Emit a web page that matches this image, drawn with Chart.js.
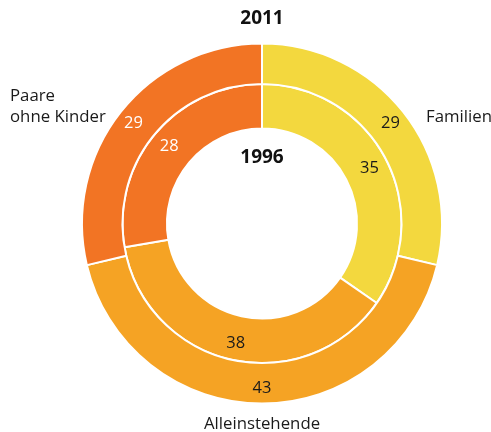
<!DOCTYPE html>
<html>
<head>
<meta charset="utf-8">
<script src="https://cdn.jsdelivr.net/npm/chart.js@4/dist/chart.umd.min.js"></script>
<style>
  html, body { margin: 0; padding: 0; background: #fff; }
  #wrap { width: 491px; height: 432px; position: relative; }
</style>
</head>
<body>
<div id="wrap"><canvas id="chart"></canvas></div>
<script>
// Data
const categories = ["Familien", "Alleinstehende", "Paare ohne Kinder"];
const years = ["2011", "1996"]; // outer ring, inner ring
const values2011 = [29, 43, 29];
const values1996 = [35, 38, 28];

// Styles
const sliceColors = ["#f3d83e", "#f5a324", "#f27424"];
const labelColors = ["#1a1a1a", "#1a1a1a", "#ffffff"];
const FONT = "'Open Sans', 'Noto Sans', sans-serif";

// Draws the values on the slices plus the year / category texts
const labelPlugin = {
  id: "ringLabels",
  afterDatasetsDraw(chart) {
    const ctx = chart.ctx;
    ctx.save();
    ctx.textAlign = "center";
    ctx.textBaseline = "middle";
    ctx.font = "16.5px " + FONT;

    chart.data.datasets.forEach((ds, di) => {
      const meta = chart.getDatasetMeta(di);
      meta.data.forEach((arc, i) => {
        const p = arc.getProps(["x", "y", "startAngle", "endAngle", "innerRadius", "outerRadius"], true);
        const mid = (p.startAngle + p.endAngle) / 2;
        const r = (p.innerRadius + p.outerRadius) / 2 + 4;
        ctx.fillStyle = labelColors[i];
        ctx.fillText(String(ds.data[i]), p.x + Math.cos(mid) * r, p.y + Math.sin(mid) * r + 1);
      });
    });

    const outer = chart.getDatasetMeta(0).data[0].getProps(["x", "y", "outerRadius"], true);
    const inner = chart.getDatasetMeta(1).data[0].getProps(["innerRadius"], true);
    const cx = outer.x, cy = outer.y, R = outer.outerRadius;

    // year labels
    ctx.fillStyle = "#111";
    ctx.font = "bold 19px " + FONT;
    ctx.fillText(years[0], cx, cy - R - 25);
    ctx.fillText(years[1], cx, cy - inner.innerRadius + 29);

    // category labels
    ctx.font = "16.8px " + FONT;
    ctx.fillStyle = "#1a1a1a";
    ctx.textAlign = "left";
    ctx.fillText(categories[0], cx + 164, cy - 106);
    const words = categories[2].split(" ");
    ctx.fillText(words[0], 10, cy - 127);
    ctx.fillText(words.slice(1).join(" "), 10, cy - 106);
    ctx.textAlign = "center";
    ctx.fillText(categories[1], cx, cy + R + 21);
    ctx.restore();
  }
};

const ctx = document.getElementById("chart").getContext("2d");
const chart = new Chart(ctx, {
  type: "doughnut",
  data: {
    labels: categories,
    datasets: [
      {
        label: years[0],
        data: values2011,
        backgroundColor: sliceColors,
        borderColor: "#ffffff",
        borderWidth: 2,
        weight: 40
      },
      {
        label: years[1],
        data: values1996,
        backgroundColor: sliceColors,
        borderColor: "#ffffff",
        borderWidth: 2,
        weight: 44
      }
    ]
  },
  options: {
    responsive: true,
    maintainAspectRatio: false,
    animation: false,
    radius: 180,
    cutout: "52.8%",
    layout: { padding: { left: 33, top: 15 } },
    plugins: {
      legend: { display: false },
      tooltip: { enabled: false }
    }
  },
  plugins: [labelPlugin]
});
</script>
</body>
</html>
